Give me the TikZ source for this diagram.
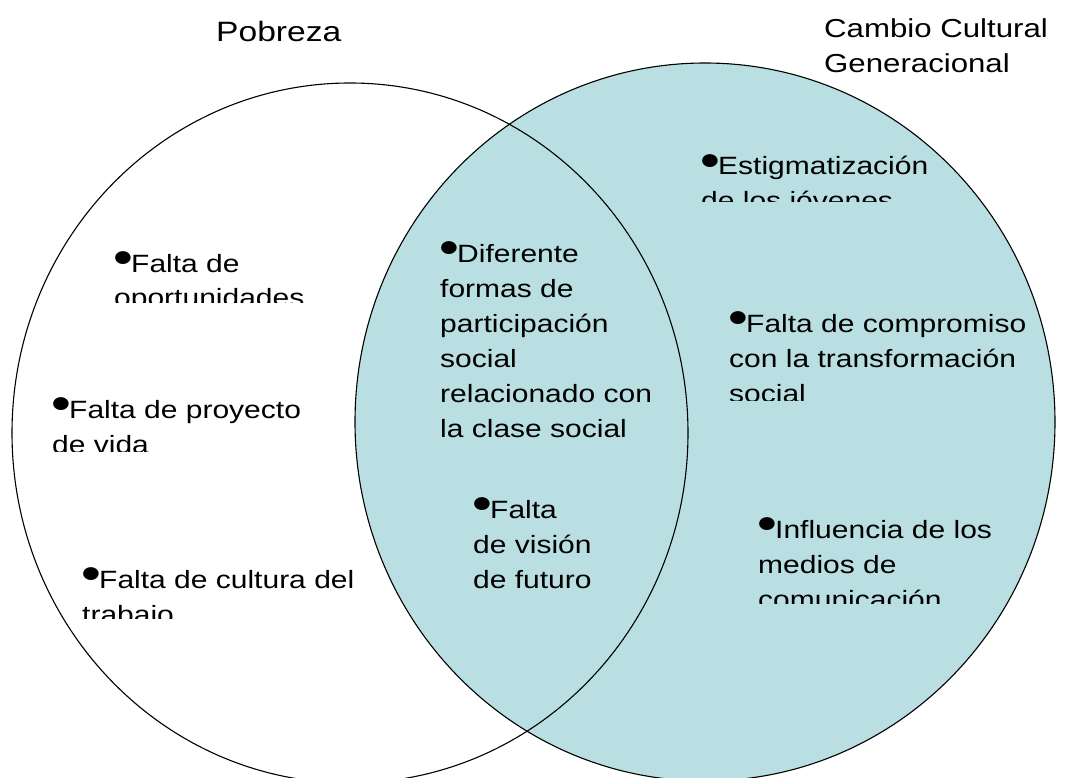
\documentclass[tikz,border=0pt]{standalone}
\usepackage{fontspec}
\setmainfont{Liberation Sans}[FakeStretch=1.2]
\usepackage{graphicx}
\usetikzlibrary{shapes.geometric}
\definecolor{vennblue}{RGB}{185,223,227}
\newcommand{\blt}{\makebox[0.68em][l]{\hspace{-0.08em}\raisebox{0.23em}{\scalebox{1.2}{●}}}}

\begin{document}
\begin{tikzpicture}[x=1pt, y=1pt,
        venn/.style={ellipse, draw, line width=1.1pt},
        every node/.style={inner sep=0pt, anchor=base west, align=left,
        font=\fontsize{25}{35}\selectfont}]

    \useasboundingbox (0,0) rectangle (1069,-778);
    \clip (0,0) rectangle (1069,-778);

    \node[venn, fill=vennblue, minimum width=700pt, minimum height=718pt, anchor=center] (cambio) at (705,-422) {};
    \node[venn, minimum width=676pt, minimum height=700pt, anchor=center] (pobreza) at (350,-433) {};

    \node[font=\fontsize{28}{35}\selectfont] (pob) at (216,-42) {Pobreza};
    \node[font=\fontsize{26}{35}\selectfont] (ccg) at (824,-73) {Cambio Cultural\\Generacional};

    \begin{scope}
        \clip (690,-140) rectangle (1000,-202);
        \node (estig) at (701,-210) {\blt Estigmatización\\de los jóvenes};
    \end{scope}
    \begin{scope}
        \clip (100,-240) rectangle (340,-303);
        \node (oport) at (114,-307) {\blt Falta de\\oportunidades};
    \end{scope}
    \begin{scope}
        \clip (40,-385) rectangle (340,-451);
        \node (proy) at (52,-453) {\blt Falta de proyecto\\de vida};
    \end{scope}
    \begin{scope}
        \clip (70,-555) rectangle (380,-618);
        \node (trab) at (82,-623) {\blt Falta de cultura del\\trabajo};
    \end{scope}

    \node (dif) at (440,-437) {\blt Diferente\\formas de\\participación\\social\\relacionado con\\la clase social};
    \node (vis) at (473,-588) {\blt Falta\\de visión\\de futuro};

    \begin{scope}
        \clip (720,-300) rectangle (1066,-400);
        \node (comp) at (729,-402) {\blt Falta de compromiso\\con la transformación\\social};
    \end{scope}
    \begin{scope}
        \clip (745,-505) rectangle (1050,-603);
        \node (infl) at (758,-608) {\blt Influencia de los\\medios de\\comunicación};
    \end{scope}
\end{tikzpicture}
\end{document}
